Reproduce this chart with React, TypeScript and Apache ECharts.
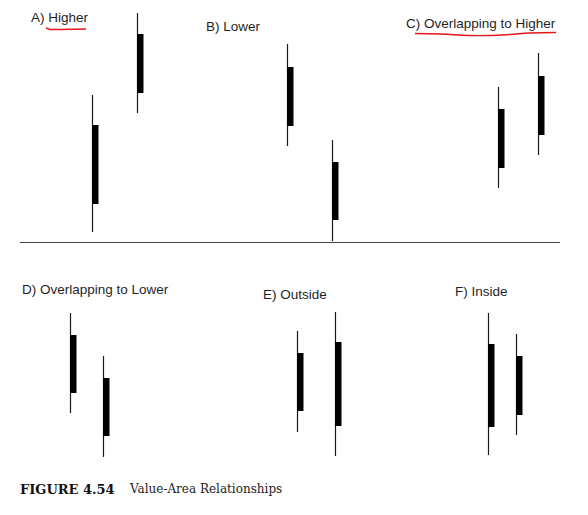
import React, { useEffect, useRef } from "react";
import * as echarts from "echarts";

// Each bar: [low, high, value-area low, value-area high]
const barLabels = ["Day 1", "Day 2"];
const higherBars = [[5, 73.5, 19, 58.5], [64.5, 114.5, 74.5, 104]];
const lowerBars = [[48, 99, 58, 87.5], [0.5, 51, 11, 40]];
const overlapHigherBars = [[27, 77.5, 37, 66.5], [43.5, 94.5, 53.5, 83]];
const overlapLowerBars = [[26, 76, 36, 65], [4, 54.5, 14.5, 43.5]];
const outsideBars = [[16.5, 67, 27, 56], [4.5, 76.5, 19.5, 61.5]];
const insideBars = [[5, 76, 19, 60.5], [15, 65.5, 25, 54.5]];

const panelTitles = [
  "A) Higher",
  "B) Lower",
  "C) Overlapping to Higher",
  "D) Overlapping to Lower",
  "E) Outside",
  "F) Inside",
];
const captionBold = "FIGURE 4.54";
const captionText = "Value-Area Relationships";

const topRange = [0, 120];
const bottomRange = [0, 80];

export default function App() {
  const ref = useRef<HTMLDivElement>(null);
  useEffect(() => {
    document.body.style.margin = "0";
    const chart = echarts.init(ref.current!, null, { renderer: "svg" });
    const panels = [
      { bars: higherBars, left: 69.5, width: 90, row: 0 },
      { bars: lowerBars, left: 264.5, width: 90, row: 0 },
      { bars: overlapHigherBars, left: 478.25, width: 79, row: 0 },
      { bars: overlapLowerBars, left: 53, width: 66, row: 1 },
      { bars: outsideBars, left: 278, width: 76, row: 1 },
      { bars: insideBars, left: 474, width: 56, row: 1 },
    ];
    const titlePos = [
      [31, 10], [206, 19], [406, 16], [22, 282], [263, 287], [455, 284],
    ];
    const renderItem = (params: any, api: any) => {
      const x = api.value(0);
      const lo = api.coord([x, api.value(1)]);
      const hi = api.coord([x, api.value(2)]);
      const vl = api.coord([x, api.value(3)]);
      const vh = api.coord([x, api.value(4)]);
      const px = Math.round(lo[0]);
      return {
        type: "group",
        children: [
          {
            type: "line",
            shape: { x1: px + 0.5, y1: hi[1], x2: px + 0.5, y2: lo[1] },
            style: { stroke: "#1a1a1a", lineWidth: 1.2 },
          },
          {
            type: "rect",
            shape: { x: px, y: vh[1], width: 6.5, height: vl[1] - vh[1] },
            style: { fill: "#000" },
          },
        ],
      };
    };
    const option: any = {
      animation: false,
      backgroundColor: "#fff",
      title: [
        ...panelTitles.map((t, i) => ({
          text: t,
          left: titlePos[i][0],
          top: titlePos[i][1],
          padding: 0,
          textStyle: {
            fontFamily: "Liberation Sans",
            fontSize: 13.5,
            fontWeight: "normal",
            color: "#1f1f1f",
          },
        })),
        {
          text: captionBold,
          left: 20,
          top: 483,
          padding: 0,
          textStyle: { fontFamily: "DejaVu Serif", fontSize: 13, fontWeight: "bold", color: "#111" },
        },
        {
          text: captionText,
          left: 130,
          top: 483,
          padding: 0,
          textStyle: { fontFamily: "DejaVu Serif", fontSize: 12, fontWeight: "normal", color: "#222" },
        },
      ],
      grid: panels.map((p) => ({
        left: p.left,
        width: p.width,
        top: p.row === 0 ? 2 : 305,
        height: p.row === 0 ? 240 : 160,
      })),
      xAxis: panels.map((_, i) => ({
        type: "category",
        gridIndex: i,
        data: barLabels,
        boundaryGap: true,
        show: false,
      })),
      yAxis: panels.map((p, i) => ({
        type: "value",
        gridIndex: i,
        min: p.row === 0 ? topRange[0] : bottomRange[0],
        max: p.row === 0 ? topRange[1] : bottomRange[1],
        show: false,
      })),
      series: panels.map((p, i) => ({
        type: "custom",
        xAxisIndex: i,
        yAxisIndex: i,
        clip: false,
        renderItem,
        data: p.bars.map((b, j) => [j, ...b]),
      })),
      graphic: [
        {
          type: "line",
          shape: { x1: 20, y1: 242.5, x2: 560, y2: 242.5 },
          style: { stroke: "#444", lineWidth: 1.2 },
        },
        {
          type: "polyline",
          shape: { points: [[46, 28], [50, 29.5], [60, 29.5], [86, 29]] },
          style: { stroke: "#e8141b", lineWidth: 1.4, fill: null },
        },
        {
          type: "polyline",
          smooth: 0.4,
          shape: {
            points: [[415, 33.5], [440, 34], [470, 35.5], [490, 35.5], [510, 34.5], [530, 33], [556, 32.5]],
            smooth: 0.4,
          },
          style: { stroke: "#e8141b", lineWidth: 1.4, fill: null },
        },
      ],
    };
    chart.setOption(option);
    return () => chart.dispose();
  }, []);
  return <div ref={ref} style={{ width: 588, height: 515 }} />;
}
